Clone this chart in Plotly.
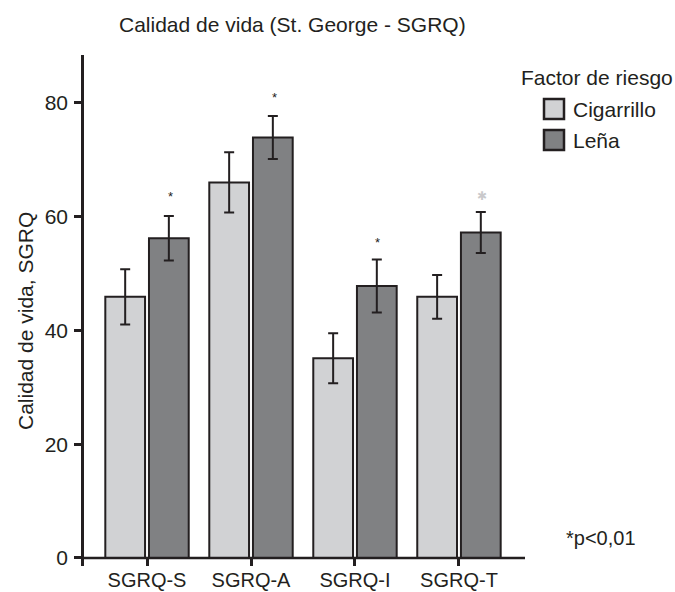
import plotly.graph_objects as go

# SGRQ domains and mean scores by risk factor
categories = ["SGRQ-S", "SGRQ-A", "SGRQ-I", "SGRQ-T"]
cigarrillo = [45.9, 66.0, 35.1, 45.9]
cigarrillo_err = [4.85, 5.3, 4.4, 3.85]
lena = [56.2, 73.9, 47.8, 57.2]
lena_err = [3.9, 3.8, 4.65, 3.6]
# significance marks above the Leña bars
sig_y = [64.0, 81.4, 55.9, 63.7]
sig_mark = ["*", "*", "*", "✱"]
sig_color = ["#231f20", "#231f20", "#231f20", "#c9c9cb"]

FONT = "Liberation Sans, Arial, sans-serif"
INK = "#231f20"
LIGHT = "#d1d2d4"
DARK = "#808183"
FS = 21

W, H = 675, 592
L, R, T, B = 84, 150, 55, 26
PW, PH = W - L - R, H - T - B


def px(x):
    return (x - L) / PW


def py(y):
    return (H - B - y) / PH


fig = go.Figure()
fig.add_trace(go.Bar(
    x=categories, y=cigarrillo, name="Cigarrillo",
    marker=dict(color=LIGHT, line=dict(color=INK, width=2)),
    error_y=dict(type="data", array=cigarrillo_err, color=INK, thickness=2, width=5),
))
fig.add_trace(go.Bar(
    x=categories, y=lena, name="Leña",
    marker=dict(color=DARK, line=dict(color=INK, width=2)),
    error_y=dict(type="data", array=lena_err, color=INK, thickness=2, width=5),
))

annotations = []
for c, yv, m, col in zip(categories, sig_y, sig_mark, sig_color):
    annotations.append(dict(
        x=c, y=yv, xref="x", yref="y", text=m, showarrow=False,
        xshift=23, yshift=-3 if m == "*" else 0,
        font=dict(family=FONT, size=13 if m == "*" else 12, color=col),
    ))

# y-axis title
annotations.append(dict(
    x=px(25), y=py(321), xref="paper", yref="paper", text="Calidad de vida, SGRQ",
    textangle=-90, showarrow=False, xanchor="center", yanchor="middle",
    font=dict(family=FONT, size=FS, color=INK),
))

# legend drawn by hand
annotations.append(dict(
    x=px(519), y=py(77), xref="paper", yref="paper", text="Factor de riesgo",
    showarrow=False, xanchor="left", yanchor="middle",
    font=dict(family=FONT, size=FS, color=INK),
))
shapes = []
for label, col, cy in [("Cigarrillo", LIGHT, 109), ("Leña", DARK, 140)]:
    shapes.append(dict(
        type="rect", xref="paper", yref="paper",
        x0=px(544), x1=px(564), y0=py(cy + 10), y1=py(cy - 10),
        fillcolor=col, line=dict(color=INK, width=2.5),
    ))
    annotations.append(dict(
        x=px(571), y=py(cy), xref="paper", yref="paper", text=label,
        showarrow=False, xanchor="left", yanchor="middle",
        font=dict(family=FONT, size=FS, color=INK),
    ))

annotations.append(dict(
    x=px(564), y=py(538), xref="paper", yref="paper", text="*p<0,01",
    showarrow=False, xanchor="left", yanchor="middle",
    font=dict(family=FONT, size=20, color=INK),
))

# baseline at zero
shapes.append(dict(
    type="line", xref="paper", yref="y", x0=0, x1=1, y0=0, y1=0,
    line=dict(color=INK, width=2.5),
))

fig.update_layout(
    width=W, height=H,
    margin=dict(l=L, r=R, t=T, b=B),
    paper_bgcolor="white", plot_bgcolor="white",
    barmode="group", bargap=0.16, bargroupgap=0.09,
    showlegend=False,
    title=dict(
        text="Calidad de vida (St. George - SGRQ)",
        x=px(119), xref="paper", xanchor="left",
        y=1 - 25 / H, yref="container", yanchor="middle",
        font=dict(family=FONT, size=FS, color=INK),
    ),
    font=dict(family=FONT, color=INK),
    annotations=annotations,
    shapes=shapes,
)
fig.update_xaxes(
    range=[-0.606, 3.635], showline=False, showgrid=False, zeroline=False,
    automargin=False,
    ticks="inside", ticklen=8, tickwidth=2.5, tickcolor=INK,
    ticklabelstandoff=0,
    tickfont=dict(family=FONT, size=20, color=INK),
)
fig.update_yaxes(
    range=[-1.41, 88.4], showline=True, linecolor=INK, linewidth=2.5,
    showgrid=False, zeroline=False, automargin=False,
    tickvals=[0, 20, 40, 60, 80], ticks="outside", ticklen=7, tickwidth=2.5,
    ticklabelstandoff=2,
    tickcolor=INK, tickfont=dict(family=FONT, size=FS, color=INK),
)

fig.write_html("out.html")
